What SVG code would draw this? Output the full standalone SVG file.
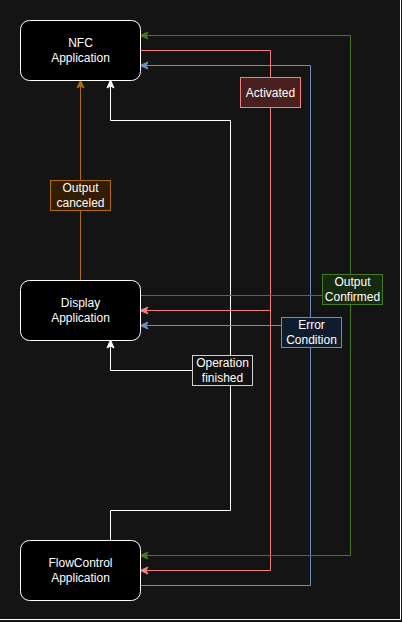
<svg xmlns="http://www.w3.org/2000/svg" width="402" height="622" viewBox="0 0 402 622">
<style>
.node{fill:#000;stroke:#fff;stroke-width:1}
.t{font-family:"Liberation Sans",Arial,sans-serif;font-size:12px;fill:#fff;text-anchor:middle}
.e{fill:none;stroke-width:1}
.g{stroke:#457a25}.r{stroke:#f08080}.b{stroke:#6c8ebf}.w{stroke:#fff}.o{stroke:#b06a08}
</style>
<defs>
<marker id="mg" viewBox="0 0 8 8" refX="2" refY="4" markerWidth="8" markerHeight="8" markerUnits="userSpaceOnUse" orient="auto" overflow="visible"><path d="M0,0.5 L8,4 L0,7.5 L2,4 Z" fill="#457a25" stroke="#457a25"/></marker>
<marker id="mr" viewBox="0 0 8 8" refX="2" refY="4" markerWidth="8" markerHeight="8" markerUnits="userSpaceOnUse" orient="auto" overflow="visible"><path d="M0,0.5 L8,4 L0,7.5 L2,4 Z" fill="#f08080" stroke="#f08080"/></marker>
<marker id="mb" viewBox="0 0 8 8" refX="2" refY="4" markerWidth="8" markerHeight="8" markerUnits="userSpaceOnUse" orient="auto" overflow="visible"><path d="M0,0.5 L8,4 L0,7.5 L2,4 Z" fill="#6c8ebf" stroke="#6c8ebf"/></marker>
<marker id="mw" viewBox="0 0 8 8" refX="2" refY="4" markerWidth="8" markerHeight="8" markerUnits="userSpaceOnUse" orient="auto" overflow="visible"><path d="M0,0.5 L8,4 L0,7.5 L2,4 Z" fill="#fff" stroke="#fff"/></marker>
<marker id="mo" viewBox="0 0 8 8" refX="2" refY="4" markerWidth="8" markerHeight="8" markerUnits="userSpaceOnUse" orient="auto" overflow="visible"><path d="M0,0.5 L8,4 L0,7.5 L2,4 Z" fill="#b06a08" stroke="#b06a08"/></marker>
</defs>
<rect x="0" y="0" width="402" height="622" fill="#141414"/>
<path d="M400.5,0 V619.5 H0" fill="none" stroke="#fff" stroke-width="1"/>

<g id="connectors">
  <path class="e o" d="M80.5,280 V86" marker-end="url(#mo)"/>
  <path class="e w" d="M110.5,540 V510.5 H230.5 V120.5 H110.5 V86" marker-end="url(#mw)"/>
  <path class="e w" d="M230.5,370.5 H110.5 V346" marker-end="url(#mw)"/>
  <path class="e r" d="M140,50.5 H270.5 V570.5 H146" marker-end="url(#mr)"/>
  <path class="e r" d="M270.5,310.5 H146" marker-end="url(#mr)"/>
  <path class="e b" d="M140,585.5 H310.5 V65.5 H146" marker-end="url(#mb)"/>
  <path class="e b" d="M310.5,325.5 H146" marker-end="url(#mb)"/>
  <path class="e g" d="M140,295.5 H350.5 V35.5 H146" marker-end="url(#mg)"/>
  <path class="e g" d="M350.5,295.5 V555.5 H146" marker-end="url(#mg)"/>
</g>

<g id="label-output-canceled">
  <rect x="50.5" y="180.5" width="60" height="30" fill="#331c00" stroke="#b06a08"/>
  <text class="t" x="80.5" y="192">Output</text>
  <text class="t" x="80.5" y="206.5">canceled</text>
</g>
<g id="label-activated">
  <rect x="240.5" y="77.5" width="60" height="30" fill="#4a1f1f" stroke="#f08080"/>
  <text class="t" x="270.5" y="96.5">Activated</text>
</g>
<g id="label-operation-finished">
  <rect x="192.5" y="355.5" width="60" height="30" fill="#121212" stroke="#d0d0d0"/>
  <text class="t" x="222.5" y="367">Operation</text>
  <text class="t" x="222.5" y="381.5">finished</text>
</g>
<g id="label-error-condition">
  <rect x="281.5" y="317.5" width="60" height="30" fill="#0f1c2e" stroke="#6c8ebf"/>
  <text class="t" x="311.5" y="329">Error</text>
  <text class="t" x="311.5" y="343.5">Condition</text>
</g>
<g id="label-output-confirmed">
  <rect x="322.5" y="274.5" width="60" height="30" fill="#162a0f" stroke="#457a25"/>
  <text class="t" x="352.5" y="286">Output</text>
  <text class="t" x="352.5" y="300.5">Confirmed</text>
</g>

<g id="node-nfc">
  <rect class="node" x="20.5" y="20.5" width="120" height="60" rx="9"/>
  <text class="t" x="80.5" y="46.5">NFC</text>
  <text class="t" x="80.5" y="61.5">Application</text>
</g>
<g id="node-display">
  <rect class="node" x="20.5" y="280.5" width="120" height="60" rx="9"/>
  <text class="t" x="80.5" y="306.5">Display</text>
  <text class="t" x="80.5" y="321.5">Application</text>
</g>
<g id="node-flowcontrol">
  <rect class="node" x="20.5" y="540.5" width="120" height="60" rx="9"/>
  <text class="t" x="80.5" y="566.5">FlowControl</text>
  <text class="t" x="80.5" y="581.5">Application</text>
</g>
</svg>
